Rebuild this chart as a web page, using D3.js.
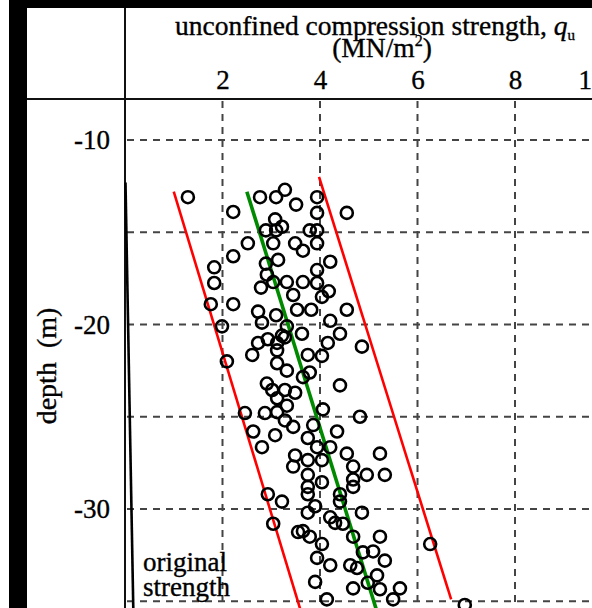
<!DOCTYPE html>
<html lang="en">
<head>
  <meta charset="UTF-8">
  <title>Unconfined compression strength vs depth</title>
  <script src="https://cdn.jsdelivr.net/npm/d3@7"></script>
  <style>
    html, body { margin: 0; padding: 0; background: #fff; }
    svg { display: block; font-family: "Liberation Serif", "Times New Roman", serif; }
    svg text { stroke: #000; stroke-width: 0.35px; }
  </style>
</head>
<body>
<div id="graph"></div>

<script>
  // data (q_u in MN/m2, depth in m)
  const samples = [
    [1.29, -13.1], [2.22, -13.9], [2.77, -13.1], [3.10, -13.1], [3.28, -12.7], [3.51, -13.5],
    [3.08, -14.3], [3.10, -14.9], [2.89, -14.9], [2.52, -15.6], [3.04, -15.6], [3.49, -15.6],
    [2.22, -16.3], [3.14, -16.5], [2.89, -16.7], [1.83, -16.9], [1.83, -17.75], [2.91, -17.3],
    [2.79, -18.0], [3.32, -17.7], [3.45, -18.4], [1.76, -18.9], [2.22, -18.9], [2.73, -19.3],
    [3.10, -19.5], [2.81, -19.9], [1.99, -20.1], [3.53, -19.2], [2.73, -21.0], [2.93, -20.8],
    [3.22, -20.6], [3.12, -21.0], [2.61, -21.65], [2.09, -22.0], [3.94, -13.1], [3.94, -13.95],
    [4.55, -13.95], [3.22, -14.7], [3.79, -14.9], [3.94, -14.9], [3.65, -16.0], [3.94, -15.6],
    [4.21, -16.6], [3.94, -17.05], [3.04, -17.7], [3.65, -17.7], [3.94, -17.75], [4.04, -18.5],
    [4.18, -18.2], [3.82, -19.2], [4.55, -19.2], [3.32, -20.1], [3.63, -20.5], [4.21, -19.8],
    [4.41, -20.5], [3.28, -20.7], [4.16, -21.0], [4.86, -21.2], [3.12, -21.4], [3.12, -22.1],
    [3.32, -22.5], [2.91, -23.2], [3.02, -23.55], [3.28, -23.55], [3.49, -23.7], [3.12, -24.0],
    [3.32, -24.4], [2.46, -24.8], [2.87, -24.8], [3.12, -24.75], [3.28, -25.2], [3.45, -25.55],
    [2.63, -25.8], [3.08, -26.0], [2.81, -26.65], [3.49, -27.1], [3.45, -27.7], [2.93, -29.2],
    [3.22, -29.6], [3.04, -30.8], [3.55, -31.25], [3.75, -21.65], [4.04, -21.7], [3.79, -22.6],
    [3.65, -22.85], [4.41, -23.3], [4.06, -24.6], [3.86, -25.45], [4.35, -25.8], [4.82, -25.0],
    [3.75, -26.15], [3.94, -26.65], [4.21, -26.65], [3.75, -27.35], [4.04, -27.35], [3.75, -28.15],
    [4.04, -28.55], [4.55, -27.0], [4.68, -27.7], [4.96, -28.15], [5.23, -27.0], [5.33, -28.15],
    [4.68, -28.4], [4.68, -28.8], [3.75, -28.8], [3.75, -29.2], [4.41, -29.2], [3.90, -29.85],
    [4.41, -29.6], [3.75, -30.2], [4.21, -30.45], [4.31, -30.75], [4.47, -30.8], [4.86, -30.2],
    [3.65, -31.2], [3.79, -31.5], [4.04, -31.9], [4.68, -31.5], [5.23, -31.5], [5.09, -32.3],
    [4.88, -32.35], [5.33, -32.8], [3.94, -32.65], [4.21, -33.05], [4.62, -33.05], [4.76, -33.2],
    [5.17, -33.6], [3.90, -33.95], [4.68, -34.3], [4.98, -34.0], [5.23, -34.35], [5.64, -34.3],
    [5.50, -34.9], [4.14, -34.9], [6.26, -31.9], [6.97, -35.2]
  ]

  const meanLine = [[2.5, -12.8], [5.22, -36]]
  const lowerBound = [[1.0, -12.8], [3.66, -36]]
  const upperBound = [[3.98, -12.0], [6.69, -34.9]]
  const originalStrength = [[0.01, -12.3], [0.17, -35.4]]

  const xTicks = [2, 4, 6, 8, 10]
  const yTicks = [-10, -20, -30]
  const xGrid = [2, 4, 6, 8]
  const yGrid = [-10, -15, -20, -25, -30, -35]

  // layout
  const width = 592
  const height = 608
  const frameX = 125
  const frameY = 99

  const svg = d3.select('#graph')
    .append('svg')
    .attr('width', width)
    .attr('height', height)

  svg.append('rect').attr('width', width).attr('height', height).attr('fill', '#fff')
  // black scan border
  svg.append('rect').attr('x', 9).attr('y', 0).attr('width', width - 9).attr('height', 8).attr('fill', '#000')
  svg.append('rect').attr('x', 9).attr('y', 0).attr('width', 18).attr('height', height).attr('fill', '#000')

  const x = d3.scaleLinear().domain([0, 10]).range([frameX, 612.5])
  const y = d3.scaleLinear().domain([-10, -30]).range([140, 509])

  // grid
  const grid = svg.append('g')
    .attr('stroke', '#444')
    .attr('stroke-width', 2)
    .attr('stroke-dasharray', '7,6')

  grid.selectAll('.vgrid')
    .data(xGrid)
    .join('line')
    .attr('x1', d => x(d)).attr('x2', d => x(d))
    .attr('y1', frameY + 2).attr('y2', height)

  grid.selectAll('.hgrid')
    .data(yGrid)
    .join('line')
    .attr('x1', frameX + 2).attr('x2', width)
    .attr('y1', d => y(d)).attr('y2', d => y(d))

  // frame
  svg.append('line')
    .attr('x1', 27).attr('x2', width).attr('y1', frameY).attr('y2', frameY)
    .attr('stroke', '#111').attr('stroke-width', 2.2)
  svg.append('line')
    .attr('x1', frameX).attr('x2', frameX).attr('y1', 8).attr('y2', height)
    .attr('stroke', '#111').attr('stroke-width', 2)

  // axes (labels only)
  const xAxis = svg.append('g')
    .attr('transform', `translate(0,${frameY})`)
    .call(d3.axisTop(x).tickValues(xTicks).tickSize(0).tickPadding(10).tickFormat(d => String(d)))
    .call(g => g.select('.domain').remove())
  xAxis.selectAll('text')
    .attr('font-size', 27)
    .attr('font-family', '"Liberation Serif", serif')
    .attr('fill', '#000')
    .attr('dx', d => d === 10 ? -21 : 0)

  const yAxis = svg.append('g')
    .attr('transform', `translate(${frameX},0)`)
    .call(d3.axisLeft(y).tickValues(yTicks).tickSize(0).tickPadding(15).tickFormat(d => String(d)))
    .call(g => g.select('.domain').remove())
  yAxis.selectAll('text')
    .attr('font-size', 27)
    .attr('font-family', '"Liberation Serif", serif')
    .attr('fill', '#000')

  // titles
  const title = svg.append('text')
    .attr('x', 175).attr('y', 35)
    .attr('font-size', 27.5)
    .attr('fill', '#000')
  title.append('tspan').text('unconfined compression strength, ')
  title.append('tspan').attr('font-style', 'italic').text('q')
  title.append('tspan').attr('font-size', 15).attr('dy', 5).text('u')

  const unit = svg.append('text')
    .attr('x', 382).attr('y', 57)
    .attr('text-anchor', 'middle')
    .attr('font-size', 27.5)
    .attr('fill', '#000')
  unit.append('tspan').text('(MN/m')
  unit.append('tspan').attr('font-size', 16).attr('dy', -11).text('2')
  unit.append('tspan').attr('dy', 11).text(')')

  svg.append('text')
    .attr('transform', 'translate(56,366) rotate(-90)')
    .attr('text-anchor', 'middle')
    .attr('font-size', 28)
    .attr('fill', '#000')
    .text('depth\u00a0\u00a0(m)')

  // lines
  const line = d3.line().x(d => x(d[0])).y(d => y(d[1]))

  svg.append('path')
    .datum(originalStrength)
    .attr('d', line)
    .attr('fill', 'none')
    .attr('stroke', '#000')
    .attr('stroke-width', 2.6)

  svg.append('path')
    .datum(lowerBound)
    .attr('d', line)
    .attr('fill', 'none')
    .attr('stroke', '#ff0000')
    .attr('stroke-width', 2.6)

  svg.append('path')
    .datum(upperBound)
    .attr('d', line)
    .attr('fill', 'none')
    .attr('stroke', '#ff0000')
    .attr('stroke-width', 2.6)

  svg.append('path')
    .datum(meanLine)
    .attr('d', line)
    .attr('fill', 'none')
    .attr('stroke', '#008a00')
    .attr('stroke-width', 3.6)

  // samples
  svg.append('g')
    .attr('fill', 'none')
    .attr('stroke', '#000')
    .attr('stroke-width', 2.6)
    .selectAll('circle')
    .data(samples)
    .join('circle')
    .attr('cx', d => x(d[0]))
    .attr('cy', d => y(d[1]))
    .attr('r', 6)

  // annotation
  const note = svg.append('text')
    .attr('x', 143).attr('y', 571)
    .attr('font-size', 27)
    .attr('fill', '#000')
  note.append('tspan').attr('x', 143).text('original')
  note.append('tspan').attr('x', 143).attr('dy', 24.5).text('strength')
</script>
</body>
</html>
